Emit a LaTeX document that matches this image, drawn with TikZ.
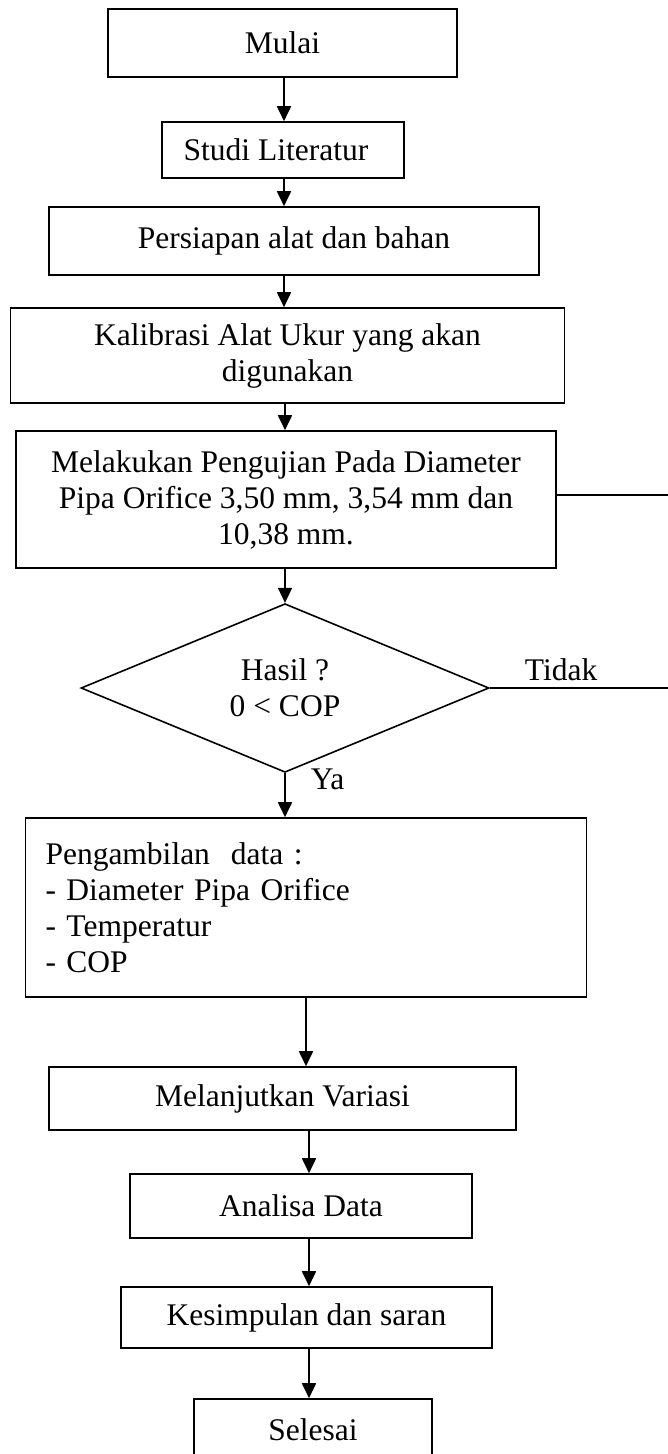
\documentclass[tikz,border=0pt]{standalone}
\usepackage{fontspec}
\setmainfont{Liberation Serif}
\usetikzlibrary{shapes.geometric,arrows.meta}
\begin{document}
\begin{tikzpicture}[x=1pt,y=-1pt,>={Triangle[length=15pt,width=14pt]},line width=1.6pt,
	font=\fontsize{31.5}{36}\selectfont,
	kotak/.style={draw,rectangle,align=center,inner sep=0pt},
	belah/.style={draw,diamond,align=center,inner sep=0pt},
	teks/.style={inner sep=0pt},
	panah/.style={->,line width=1.8pt}]
	\useasboundingbox (0,0) rectangle (668,1454);
	\coordinate (atas) at (284,0);
	\coordinate (bawah) at (309,0);
	\coordinate (ujungA) at (668,495);
	\coordinate (ujungB) at (668,688);
	\node[kotak,minimum width=349,minimum height=68] (mulai) at (282.5,43) {Mulai};
	\node[kotak,minimum width=242,minimum height=56] (studi) at (283,150) {Studi Literatur\hspace{14pt}};
	\node[kotak,minimum width=490,minimum height=68] (persiapan) at (294,241) {Persiapan alat dan bahan};
	\node[kotak,minimum width=554,minimum height=95] (kalibrasi) at (287.5,355.5) {Kalibrasi Alat Ukur yang akan\\digunakan};
	\node[kotak,minimum width=540,minimum height=137] (melakukan) at (286,499.5) {Melakukan Pengujian Pada Diameter\\Pipa Orifice 3,50 mm, 3,54 mm dan\\10,38 mm.};
	\node[belah,minimum width=408,minimum height=166] (hasil) at (285,688) {Hasil ?\\0 < COP};
	\node[kotak,align=left,text width=521,inner xsep=20pt,minimum height=179] (pengambilan) at (306,907.5) {Pengambilan\ \ data :\\- Diameter Pipa Orifice\\- Temperatur\\- COP};
	\node[kotak,minimum width=467,minimum height=63] (melanjutkan) at (282.5,1098.5) {Melanjutkan Variasi};
	\node[kotak,minimum width=342,minimum height=64] (analisa) at (301,1206) {Analisa Data};
	\node[kotak,minimum width=371,minimum height=61] (kesimpulan) at (306.5,1317.5) {Kesimpulan dan saran};
	\node[kotak,minimum width=238,minimum height=62] (selesai) at (313,1430) {Selesai};
	% alur utama
	\draw[panah] (mulai.south -| atas) -- (studi.north -| atas);
	\draw[panah] (studi.south -| atas) -- (persiapan.north -| atas);
	\draw[panah] (persiapan.south -| atas) -- (kalibrasi.north -| atas);
	\draw[panah] (kalibrasi.south -| hasil) -- (melakukan.north -| hasil);
	\draw[panah] (melakukan.south -| hasil) -- (hasil.north);
	\draw[panah] (hasil.south) -- (hasil.south |- pengambilan.north) node[teks,pos=.14,right=25pt] (ya) {Ya};
	\draw[panah] (pengambilan.south) -- (pengambilan.south |- melanjutkan.north);
	\draw[panah] (melanjutkan.south -| bawah) -- (analisa.north -| bawah);
	\draw[panah] (analisa.south -| bawah) -- (kesimpulan.north -| bawah);
	\draw[panah] (kesimpulan.south -| bawah) -- (selesai.north -| bawah);
	% garis ke kanan
	\draw (melakukan.east |- ujungA) -- (ujungA);
	\draw (hasil.east) -- (ujungB) node[teks,pos=.4,above=6pt] (tidak) {Tidak};
\end{tikzpicture}
\end{document}
